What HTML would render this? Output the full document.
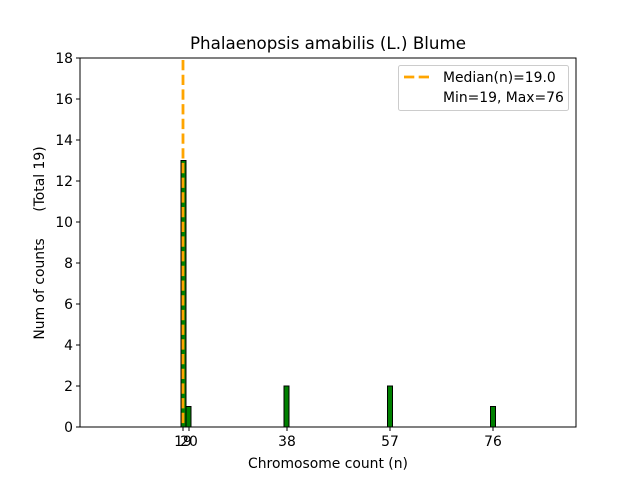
<!DOCTYPE html>
<html><head><style>body{margin:0;background:#fff}svg{font-family:"DejaVu Sans","Liberation Sans",sans-serif}</style></head><body>
<svg width="640" height="480" xmlns="http://www.w3.org/2000/svg">
<rect width="640" height="480" fill="#fff"/>
<line x1="80" y1="427" x2="512" y2="427" stroke="#000" stroke-width="0.8"/>
<g fill="#008000" stroke="#000" stroke-width="1">
<rect x="181" y="160.5" width="5" height="266.5"/>
<rect x="186" y="406.5" width="5" height="20.5"/>
<rect x="284" y="386" width="5" height="41"/>
<rect x="387.5" y="386" width="5" height="41"/>
<rect x="490.5" y="406.5" width="5" height="20.5"/>
</g>
<line x1="183" y1="60" x2="183" y2="427" stroke="#ffa500" stroke-width="2.8" stroke-dasharray="10.3,4.4"/>
<rect x="80" y="58" width="496" height="369" fill="none" stroke="#000" stroke-width="1"/>
<g stroke="#000" stroke-width="1">
<line x1="80" y1="427" x2="76" y2="427"/><line x1="80" y1="386" x2="76" y2="386"/><line x1="80" y1="345" x2="76" y2="345"/><line x1="80" y1="304" x2="76" y2="304"/><line x1="80" y1="263" x2="76" y2="263"/><line x1="80" y1="222" x2="76" y2="222"/><line x1="80" y1="181" x2="76" y2="181"/><line x1="80" y1="140" x2="76" y2="140"/><line x1="80" y1="99" x2="76" y2="99"/><line x1="80" y1="58" x2="76" y2="58"/>
<line x1="183" y1="427" x2="183" y2="431"/><line x1="189" y1="427" x2="189" y2="431"/><line x1="287" y1="427" x2="287" y2="431"/><line x1="390" y1="427" x2="390" y2="431"/><line x1="493" y1="427" x2="493" y2="431"/>
</g>
<g font-size="13.9" text-anchor="end">
<text x="73" y="432">0</text><text x="73" y="391">2</text><text x="73" y="350">4</text><text x="73" y="309">6</text><text x="73" y="268">8</text><text x="73" y="227">10</text><text x="73" y="186">12</text><text x="73" y="145">14</text><text x="73" y="104">16</text><text x="73" y="63">18</text>
</g>
<g font-size="13.9" text-anchor="middle">
<text x="183" y="446">19</text><text x="189" y="446">20</text><text x="287" y="446">38</text><text x="390" y="446">57</text><text x="493" y="446">76</text>
<text x="328" y="468">Chromosome count (n)</text>
<text x="328" y="49" font-size="16.7">Phalaenopsis amabilis (L.) Blume</text>
</g>
<text transform="translate(44,243) rotate(-90)" font-size="13.9" text-anchor="middle" style="white-space:pre" xml:space="preserve">Num of counts      (Total 19)</text>
<rect x="398.5" y="65.5" width="170" height="45" rx="2" fill="#fff" stroke="#ccc"/>
<line x1="404" y1="77" x2="432" y2="77" stroke="#ffa500" stroke-width="2.8" stroke-dasharray="10.3,4.4"/>
<text x="443" y="82" font-size="13.9">Median(n)=19.0</text>
<text x="443" y="102" font-size="13.9">Min=19, Max=76</text>
</svg>
</body></html>
